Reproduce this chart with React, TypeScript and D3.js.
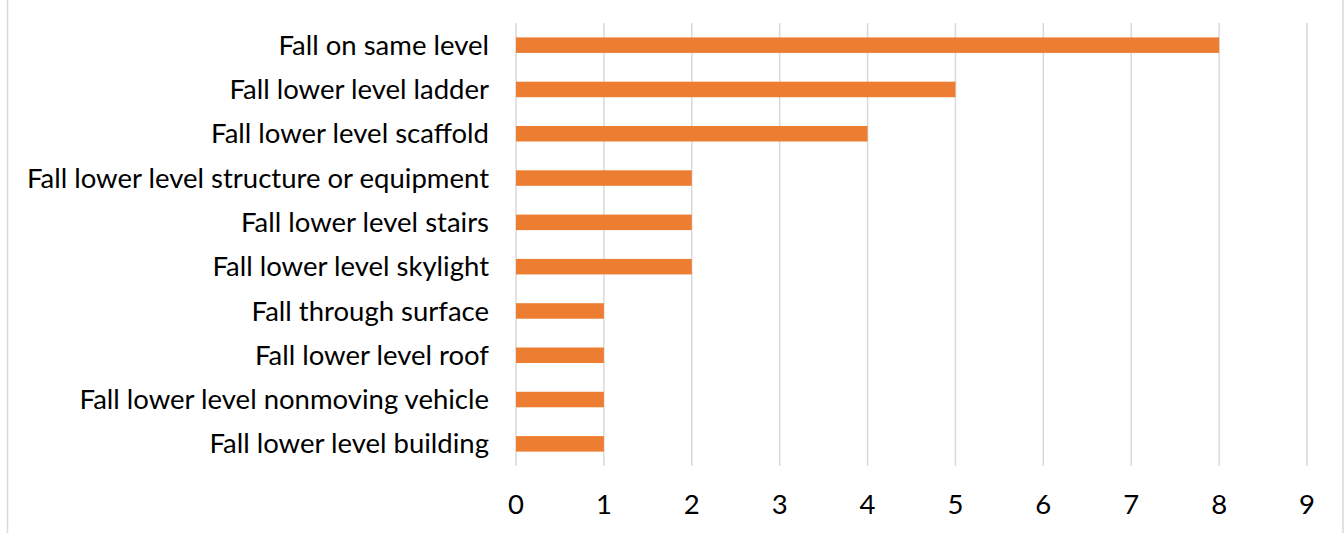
import * as d3 from "d3";
import type { ReactElement } from "react";

const categories: ReadonlyArray<string> = [
  "Fall on same level",
  "Fall lower level ladder",
  "Fall lower level scaffold",
  "Fall lower level structure or equipment",
  "Fall lower level stairs",
  "Fall lower level skylight",
  "Fall through surface",
  "Fall lower level roof",
  "Fall lower level nonmoving vehicle",
  "Fall lower level building",
];

const counts: ReadonlyArray<number> = [8, 5, 4, 2, 2, 2, 1, 1, 1, 1];

const xTicks: ReadonlyArray<number> = [0, 1, 2, 3, 4, 5, 6, 7, 8, 9];

const WIDTH = 1344;
const HEIGHT = 533;
const PLOT_LEFT = 516;
const PLOT_RIGHT = 1307;
const PLOT_TOP = 23;
const PLOT_BOTTOM = 466;
const FONT = "Lato, 'Open Sans', sans-serif";
const FONT_SIZE = 27.5;
const BAR_COLOR = "#ED7D31";
const GRID_COLOR = "#D9D9D9";

export default function App(): ReactElement {
  const x = d3.scaleLinear().domain([0, 9]).range([PLOT_LEFT, PLOT_RIGHT]);
  const y = d3
    .scaleBand<string>()
    .domain(categories as string[])
    .range([PLOT_TOP, PLOT_BOTTOM])
    .paddingInner(0.65)
    .paddingOuter(0.325);

  return (
    <div style={{ position: "fixed", left: 0, top: 0 }}>
      <svg width={WIDTH} height={HEIGHT} style={{ display: "block", background: "#fff" }}>
        {/* chart frame edges */}
        <line x1={7.5} x2={7.5} y1={0} y2={HEIGHT} stroke={GRID_COLOR} strokeWidth={1.5} />
        <line x1={1343} x2={1343} y1={0} y2={HEIGHT} stroke={GRID_COLOR} strokeWidth={1.5} />

        {xTicks.map((t) => (
          <g key={t}>
            <line
              x1={x(t)}
              x2={x(t)}
              y1={PLOT_TOP}
              y2={PLOT_BOTTOM}
              stroke={GRID_COLOR}
              strokeWidth={1.5}
            />
            <text
              x={x(t)}
              y={514}
              textAnchor="middle"
              fontFamily={FONT}
              fontSize={FONT_SIZE}
              fill="#000"
            >
              {t}
            </text>
          </g>
        ))}

        {categories.map((c, i) => {
          const by = y(c) ?? 0;
          return (
            <g key={c}>
              <rect
                x={x(0)}
                y={by}
                width={x(counts[i]) - x(0)}
                height={y.bandwidth()}
                fill={BAR_COLOR}
              />
              <text
                x={PLOT_LEFT - 27}
                y={by + y.bandwidth() / 2}
                dy="0.35em"
                textAnchor="end"
                fontFamily={FONT}
                fontSize={FONT_SIZE}
                fill="#000"
              >
                {c}
              </text>
            </g>
          );
        })}
      </svg>
    </div>
  );
}
